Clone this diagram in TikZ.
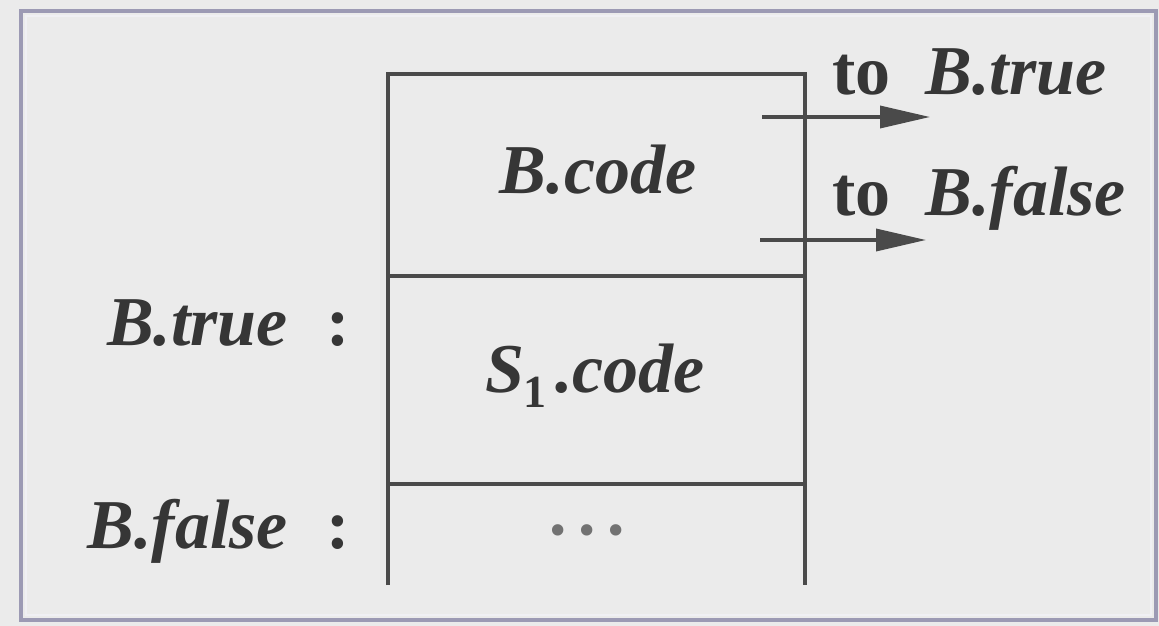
\documentclass[tikz,border=0pt]{standalone}
\usepackage{fontspec}
\setmainfont{Liberation Serif}
\usetikzlibrary{arrows.meta}
\definecolor{bgc}{HTML}{EBEBEB}
\definecolor{framec}{HTML}{9C9AB4}
\definecolor{inkc}{HTML}{363636}
\definecolor{linec}{HTML}{4A4A4A}
\begin{document}
\begin{tikzpicture}[x=1pt,y=-1pt,
  txt/.style={inner sep=0pt,text=inkc,font=\fontsize{70}{72}\selectfont\bfseries},
  ln/.style={draw=linec,line width=3.5pt},
  arr/.style={draw=linec,line width=3.5pt,-{Triangle[length=50pt,width=22pt]}}]
\useasboundingbox (0,0) rectangle (1159,626);
\fill[bgc] (0,0) rectangle (1159,626);
\draw[framec,line width=4pt] (21,11) rectangle (1156,620);
\draw[white!85!framec,line width=2pt] (26,16) rectangle (1151,615);
% stack
\coordinate (tl) at (388,74);
\coordinate (tr) at (805,74);
\coordinate (m1l) at (388,276);
\coordinate (m1r) at (805,276);
\coordinate (m2l) at (388,484);
\coordinate (m2r) at (805,484);
\coordinate (bl) at (388,585);
\coordinate (br) at (805,585);
\draw[ln] (bl) -- (tl) -- (tr) -- (br);
\draw[ln] (m1l) -- (m1r);
\draw[ln] (m2l) -- (m2r);
\node[txt,anchor=base] (bcode) at (598,193) {\itshape B.code};
\node[txt,anchor=base] (scode) at (595,392) {\itshape S\raisebox{-0.22em}{\fontsize{46}{46}\selectfont\upshape 1}\hspace{0.12em}.code};
\node[txt,anchor=base,text=inkc!70] (dots) at (587,553) {\textperiodcentered\hspace{0.08em}\textperiodcentered\hspace{0.08em}\textperiodcentered};
\node[txt,anchor=base east] (btrue) at (350,345) {\textit{B.true}\hspace{0.55em}:};
\node[txt,anchor=base east] (bfalse) at (350,548) {\textit{B.false}\hspace{0.55em}:};
% exits
\coordinate (a1s) at (762,117);
\coordinate (a1e) at (930,117);
\coordinate (a2s) at (760,240);
\coordinate (a2e) at (926,240);
\draw[arr] (a1s) -- (a1e);
\draw[arr] (a2s) -- (a2e);
\node[txt,anchor=base west] (tot) at (832,95) {to\hspace{0.5em}\textit{B.true}};
\node[txt,anchor=base west] (tof) at (832,215) {to\hspace{0.5em}\textit{B.false}};
\end{tikzpicture}
\end{document}
